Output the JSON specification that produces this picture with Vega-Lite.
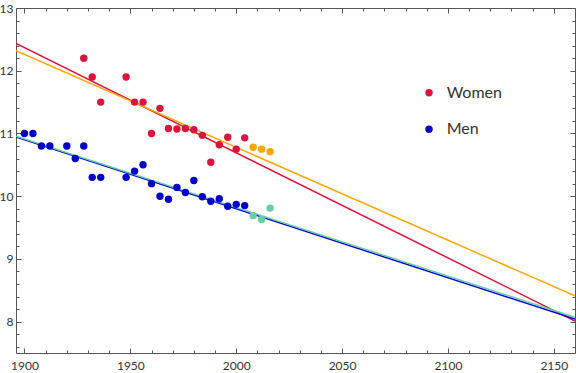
{
  "$schema": "https://vega.github.io/schema/vega-lite/v6.json",
  "width": 559,
  "height": 345,
  "autosize": {"type": "none"},
  "padding": {"left": 16, "top": 8, "right": 1, "bottom": 20},
  "background": "white",
  "config": {
    "view": {"stroke": "#555555", "strokeWidth": 1},
    "axis": {"domain": false, "grid": false, "tickColor": "#555555", "labelColor": "#333333", "labelFont": "Lato", "labelFontSize": 12, "tickWidth": 1, "title": null, "format": "d"}
  },
  "datasets": {
    "pts": [
      {"year": 1900, "time": 11.0, "series": "Men"},
      {"year": 1904, "time": 11.0, "series": "Men"},
      {"year": 1908, "time": 10.8, "series": "Men"},
      {"year": 1912, "time": 10.8, "series": "Men"},
      {"year": 1920, "time": 10.8, "series": "Men"},
      {"year": 1924, "time": 10.6, "series": "Men"},
      {"year": 1928, "time": 10.8, "series": "Men"},
      {"year": 1932, "time": 10.3, "series": "Men"},
      {"year": 1936, "time": 10.3, "series": "Men"},
      {"year": 1948, "time": 10.3, "series": "Men"},
      {"year": 1952, "time": 10.4, "series": "Men"},
      {"year": 1956, "time": 10.5, "series": "Men"},
      {"year": 1960, "time": 10.2, "series": "Men"},
      {"year": 1964, "time": 10.0, "series": "Men"},
      {"year": 1968, "time": 9.95, "series": "Men"},
      {"year": 1972, "time": 10.14, "series": "Men"},
      {"year": 1976, "time": 10.06, "series": "Men"},
      {"year": 1980, "time": 10.25, "series": "Men"},
      {"year": 1984, "time": 9.99, "series": "Men"},
      {"year": 1988, "time": 9.92, "series": "Men"},
      {"year": 1992, "time": 9.96, "series": "Men"},
      {"year": 1996, "time": 9.84, "series": "Men"},
      {"year": 2000, "time": 9.87, "series": "Men"},
      {"year": 2004, "time": 9.85, "series": "Men"},
      {"year": 1928, "time": 12.2, "series": "Women"},
      {"year": 1932, "time": 11.9, "series": "Women"},
      {"year": 1936, "time": 11.5, "series": "Women"},
      {"year": 1948, "time": 11.9, "series": "Women"},
      {"year": 1952, "time": 11.5, "series": "Women"},
      {"year": 1956, "time": 11.5, "series": "Women"},
      {"year": 1960, "time": 11.0, "series": "Women"},
      {"year": 1964, "time": 11.4, "series": "Women"},
      {"year": 1968, "time": 11.08, "series": "Women"},
      {"year": 1972, "time": 11.07, "series": "Women"},
      {"year": 1976, "time": 11.08, "series": "Women"},
      {"year": 1980, "time": 11.06, "series": "Women"},
      {"year": 1984, "time": 10.97, "series": "Women"},
      {"year": 1988, "time": 10.54, "series": "Women"},
      {"year": 1992, "time": 10.82, "series": "Women"},
      {"year": 1996, "time": 10.94, "series": "Women"},
      {"year": 2000, "time": 10.75, "series": "Women"},
      {"year": 2004, "time": 10.93, "series": "Women"}
    ],
    "recent": [
      {"year": 2008, "time": 9.69, "series": "Men 2008-2016"},
      {"year": 2012, "time": 9.63, "series": "Men 2008-2016"},
      {"year": 2016, "time": 9.81, "series": "Men 2008-2016"},
      {"year": 2008, "time": 10.78, "series": "Women 2008-2016"},
      {"year": 2012, "time": 10.75, "series": "Women 2008-2016"},
      {"year": 2016, "time": 10.71, "series": "Women 2008-2016"}
    ],
    "fits": [
      {"year": 1896, "time": 12.436, "fit": "Women to 2004", "ord": 1},
      {"year": 2160, "time": 8.01, "fit": "Women to 2004", "ord": 1},
      {"year": 1896, "time": 12.32, "fit": "Women to 2016", "ord": 2},
      {"year": 2160, "time": 8.41, "fit": "Women to 2016", "ord": 2},
      {"year": 1896, "time": 10.945, "fit": "Men to 2004", "ord": 3},
      {"year": 2160, "time": 8.04, "fit": "Men to 2004", "ord": 3},
      {"year": 1896, "time": 10.955, "fit": "Men to 2016", "ord": 4},
      {"year": 2160, "time": 8.07, "fit": "Men to 2016", "ord": 4}
    ]
  },
  "resolve": {"axis": {"x": "independent", "y": "independent"}},
  "layer": [
    {
      "data": {"name": "fits"},
      "mark": {"type": "line", "strokeWidth": 1.5, "clip": true},
      "encoding": {
        "x": {"field": "year", "type": "quantitative", "scale": {"domain": [1896, 2160], "nice": false, "zero": false},
              "axis": {"orient": "bottom", "values": [1900,1910,1920,1930,1940,1950,1960,1970,1980,1990,2000,2010,2020,2030,2040,2050,2060,2070,2080,2090,2100,2110,2120,2130,2140,2150,2160], "tickSize": -3, "labels": false}},
        "y": {"field": "time", "type": "quantitative", "scale": {"domain": [7.5, 13], "nice": false, "zero": false},
              "axis": {"orient": "left", "values": [7.6,7.8,8.2,8.4,8.6,8.8,9.2,9.4,9.6,9.8,10.2,10.4,10.6,10.8,11.2,11.4,11.6,11.8,12.2,12.4,12.6,12.8], "tickSize": -3, "labels": false}},
        "stroke": {"field": "fit", "type": "nominal", "legend": null,
                  "scale": {"domain": ["Women to 2004", "Women to 2016", "Men to 2004", "Men to 2016"], "range": ["#DC143C", "#FFA500", "#0000C8", "#66CDAA"]}},
        "order": {"field": "ord"},
        "detail": {"field": "ord"}
      }
    },
    {
      "data": {"name": "recent"},
      "mark": {"type": "point", "filled": true, "opacity": 1, "size": 55},
      "encoding": {
        "x": {"field": "year", "type": "quantitative",
              "axis": {"orient": "top", "values": [1900, 1950, 2000, 2050, 2100, 2150], "tickSize": -5, "labels": false}},
        "y": {"field": "time", "type": "quantitative",
              "axis": {"orient": "right", "values": [8, 9, 10, 11, 12, 13], "tickSize": -5, "labels": false}},
        "fill": {"field": "series", "type": "nominal", "legend": null,
                 "scale": {"domain": ["Women 2008-2016", "Men 2008-2016"], "range": ["#FFA500", "#66CDAA"]}}
      }
    },
    {
      "data": {"name": "recent"},
      "mark": {"type": "point", "opacity": 0},
      "encoding": {
        "x": {"field": "year", "type": "quantitative",
              "axis": {"orient": "top", "values": [1900,1910,1920,1930,1940,1950,1960,1970,1980,1990,2000,2010,2020,2030,2040,2050,2060,2070,2080,2090,2100,2110,2120,2130,2140,2150,2160], "tickSize": -3, "labels": false}},
        "y": {"field": "time", "type": "quantitative",
              "axis": {"orient": "right", "values": [7.6,7.8,8.2,8.4,8.6,8.8,9.2,9.4,9.6,9.8,10.2,10.4,10.6,10.8,11.2,11.4,11.6,11.8,12.2,12.4,12.6,12.8], "tickSize": -3, "labels": false}}
      }
    },
    {
      "data": {"name": "pts"},
      "mark": {"type": "point", "filled": true, "opacity": 1, "size": 55},
      "encoding": {
        "x": {"field": "year", "type": "quantitative",
              "axis": {"orient": "bottom", "values": [1900, 1950, 2000, 2050, 2100, 2150], "tickSize": -5, "labelPadding": 12}},
        "y": {"field": "time", "type": "quantitative",
              "axis": {"orient": "left", "values": [8, 9, 10, 11, 12, 13], "tickSize": -5, "labelPadding": 8}},
        "color": {"field": "series", "type": "nominal",
                  "scale": {"domain": ["Women", "Men"], "range": ["#DC143C", "#0000C8"]},
                  "legend": {"title": null, "orient": "none", "legendX": 405, "legendY": 76.7, "symbolType": "circle", "symbolSize": 55, "rowPadding": 20.6, "labelOffset": 9.7, "padding": 0, "labelFont": "Lato", "labelFontSize": 16, "labelColor": "#333333"}}
      }
    }
  ]
}
